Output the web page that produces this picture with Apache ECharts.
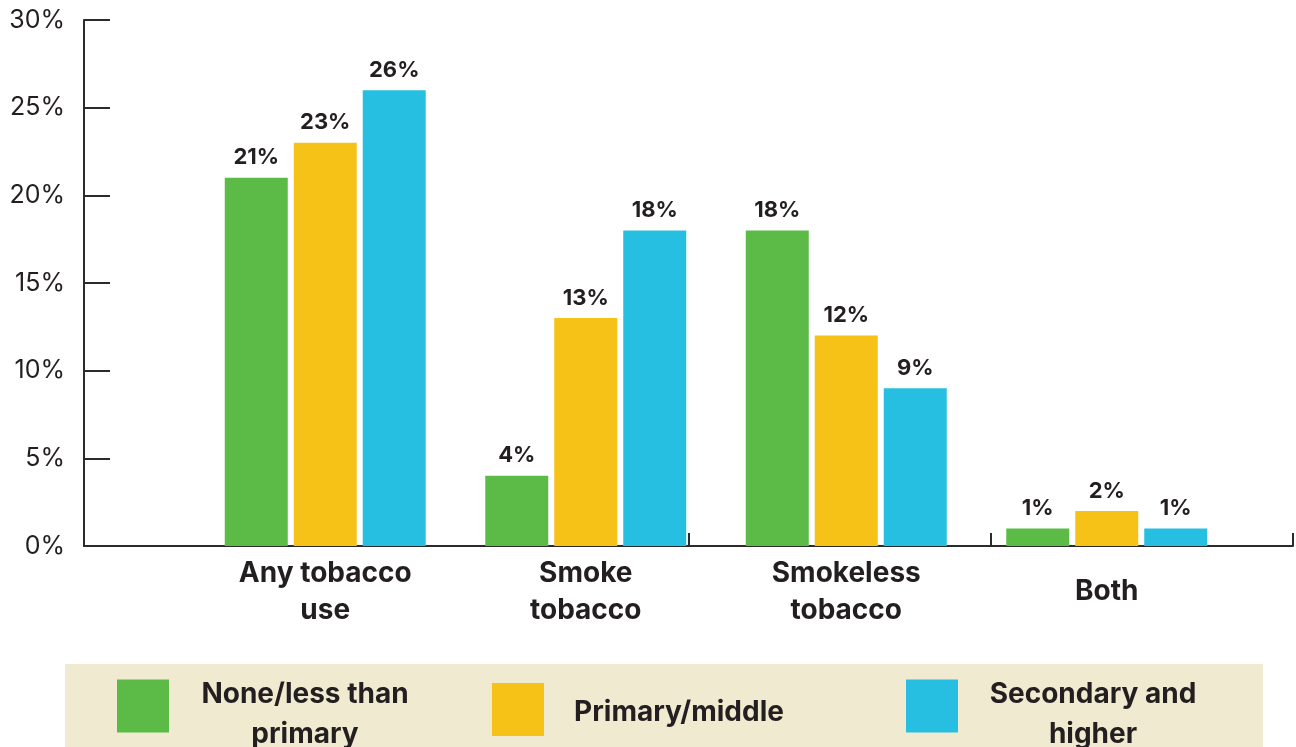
<!DOCTYPE html>
<html>
<head>
<meta charset="utf-8">
<script src="https://cdn.jsdelivr.net/npm/echarts@6/dist/echarts.min.js"></script>
<style>
html,body{margin:0;padding:0;background:#fff;}
#chart{width:1296px;height:747px;}
</style>
</head>
<body>
<div id="chart"></div>
<script>
var categories = ['Any tobacco\nuse', 'Smoke\ntobacco', 'Smokeless\ntobacco', 'Both'];
var seriesNames = ['None/less than primary', 'Primary/middle', 'Secondary and higher'];
var noneLessThanPrimary = [21, 4, 18, 1];
var primaryMiddle = [23, 13, 12, 2];
var secondaryHigher = [26, 18, 9, 1];
var yTicks = [0, 5, 10, 15, 20, 25, 30];
var legendLines = {
  'None/less than primary': ['None/less than', 'primary'],
  'Primary/middle': ['Primary/middle'],
  'Secondary and higher': ['Secondary and', 'higher']
};

var colors = ['#5cbb47', '#f6c218', '#26bfe2'];
var textColor = '#231f20';
var axisColor = '#2b2b2b';
var FONT = 'Inter';

var chart = echarts.init(document.getElementById('chart'));

function mkSeries(name, data, color) {
  return {
    name: name,
    type: 'bar',
    xAxisIndex: 0,
    yAxisIndex: 0,
    data: data,
    barWidth: 63,
    barGap: '9.5%',
    itemStyle: {color: color},
    z: 3,
    label: {
      show: true,
      position: 'top',
      distance: 9,
      formatter: '{c}%',
      color: textColor,
      fontFamily: FONT,
      fontWeight: 'bold',
      fontSize: 22
    }
  };
}

function mkLegend(name, left, top, padLeft, padTop) {
  return {
    data: [name],
    left: left,
    top: top,
    orient: 'horizontal',
    padding: 0,
    icon: 'rect',
    itemWidth: 52,
    itemHeight: 53,
    selectedMode: false,
    formatter: function (n) {
      return legendLines[n].map(function (l) { return '{a|' + l + '}'; }).join('\n');
    },
    textStyle: {
      color: textColor,
      fontFamily: FONT,
      fontWeight: 'bold',
      fontSize: 28,
      lineHeight: 40,
      padding: [padTop, 0, 0, padLeft],
      rich: {
        a: {
          width: 214,
          align: 'center',
          color: textColor,
          fontFamily: FONT,
          fontWeight: 'bold',
          fontSize: 28,
          lineHeight: 40
        }
      }
    }
  };
}

var option = {
  animation: false,
  backgroundColor: '#ffffff',
  graphic: [{
    type: 'rect',
    z: -10,
    shape: {x: 65, y: 664, width: 1198, height: 90},
    style: {fill: '#f0ead0'}
  }],
  grid: [
    {left: 195, right: 59, top: 20, bottom: 201, containLabel: false},
    {left: 84, right: 3, top: 20, bottom: 201, containLabel: false}
  ],
  xAxis: [
    {
      type: 'category',
      gridIndex: 0,
      data: categories,
      axisLine: {show: false},
      axisTick: {show: false},
      axisLabel: {
        color: textColor,
        fontFamily: FONT,
        fontWeight: 'bold',
        fontSize: 28,
        lineHeight: 37,
        verticalAlign: 'middle',
        margin: 46,
        interval: 0
      },
      splitLine: {show: false}
    },
    {
      type: 'value',
      gridIndex: 1,
      min: 0,
      max: 4,
      interval: 1,
      axisLine: {show: true, lineStyle: {color: axisColor, width: 2}},
      axisTick: {show: true, inside: true, length: 13, lineStyle: {color: axisColor, width: 2}},
      axisLabel: {show: false},
      splitLine: {show: false}
    }
  ],
  yAxis: [
    {
      type: 'value',
      gridIndex: 0,
      min: 0,
      max: 30,
      interval: 5,
      offset: 111,
      axisLine: {show: true, lineStyle: {color: axisColor, width: 2}},
      axisTick: {show: true, inside: true, length: 26, lineStyle: {color: axisColor, width: 2}},
      axisLabel: {
        color: textColor,
        fontFamily: FONT,
        fontSize: 25,
        margin: 19,
        formatter: function (v) { return yTicks.indexOf(v) >= 0 ? v + '%' : ''; }
      },
      splitLine: {show: false}
    },
    {
      type: 'value',
      gridIndex: 1,
      min: 0,
      max: 30,
      show: false
    }
  ],
  legend: [
    mkLegend(seriesNames[0], 117, 657, 24, 18),
    mkLegend(seriesNames[1], 492, 683, 23, 6),
    mkLegend(seriesNames[2], 906, 657, 23, 18)
  ],
  series: [
    mkSeries(seriesNames[0], noneLessThanPrimary, colors[0]),
    mkSeries(seriesNames[1], primaryMiddle, colors[1]),
    mkSeries(seriesNames[2], secondaryHigher, colors[2])
  ]
};
chart.setOption(option);
</script>
</body>
</html>
